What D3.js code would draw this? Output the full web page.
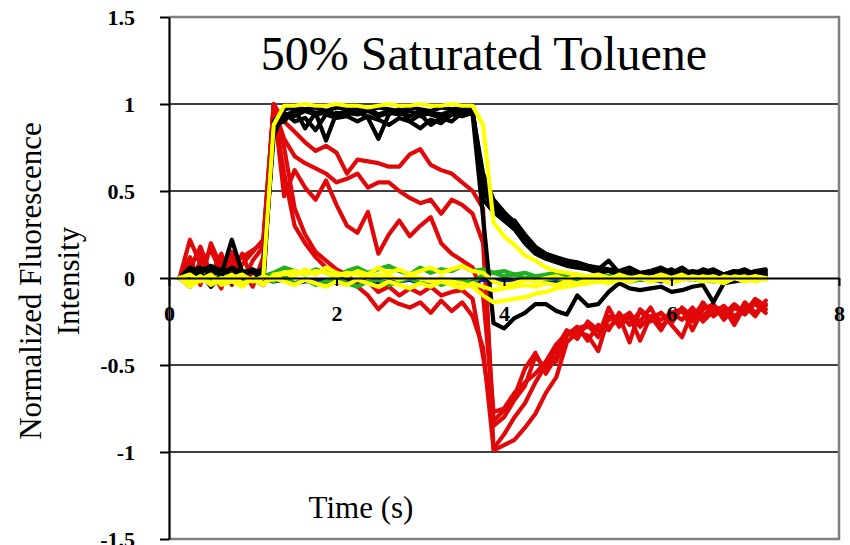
<!DOCTYPE html>
<html><head><meta charset="utf-8">
<script src="https://cdn.jsdelivr.net/npm/d3@7"></script>
<style>
html,body{margin:0;padding:0;background:#fff;}
svg{display:block;}
text{font-family:"Liberation Serif","Times New Roman",serif;}
</style></head>
<body>
<svg id="chart" width="850" height="545"></svg>
<script>
const title = "50% Saturated Toluene";
const xTitle = "Time (s)";
const yTitle = ["Normalized Fluorescence", "Intensity"];
const xTicks = [0, 2, 4, 6, 8];
const yTicks = [-1.5, -1, -0.5, 0, 0.5, 1, 1.5];
const gridValues = [-1, -0.5, 0.5, 1];

const time = [0.125,0.25,0.375,0.5,0.625,0.75,0.875,1,1.125,1.25,1.375,1.5,1.625,1.75,1.875,2,2.125,2.25,2.375,2.5,2.625,2.75,2.875,3,3.125,3.25,3.375,3.5,3.625,3.75,3.875,4,4.125,4.25,4.375,4.5,4.625,4.75,4.875,5,5.125,5.25,5.375,5.5,5.625,5.75,5.875,6,6.125,6.25,6.375,6.5,6.625,6.75,6.875,7,7.125];

// red series
const red1 = [0,0.22,0.08,0.16,0.03,0.12,-0.03,0.10,0.18, 1.0,
  0.90,0.84,0.78,0.73,0.76,0.72,0.60,0.68,0.67,0.66,0.64,0.64,0.71,0.74,0.65,0.62,0.60,0.55,0.50, 0.40,
  -0.99,-0.96,-0.93,-0.86,-0.78,-0.66,-0.57,-0.37,-0.31,-0.33,-0.42,-0.22,-0.26,-0.22,-0.36,-0.22,-0.24,-0.20,-0.18,-0.30,-0.18,-0.15,-0.24,-0.17,-0.21,-0.14,-0.18];
const red2 = [0,0.05,0.18,0.02,0.14,-0.04,0.08,0.15,0.22, 0.98,
  0.80,0.70,0.66,0.63,0.60,0.55,0.57,0.60,0.52,0.55,0.55,0.50,0.46,0.43,0.45,0.37,0.45,0.42,0.37, 0.20,
  -0.82,-0.76,-0.68,-0.52,-0.43,-0.55,-0.45,-0.33,-0.28,-0.36,-0.27,-0.30,-0.20,-0.27,-0.19,-0.25,-0.20,-0.27,-0.34,-0.19,-0.22,-0.16,-0.19,-0.25,-0.14,-0.20,-0.15];
const red3 = [0,0.12,-0.04,0.20,0.06,0.02,0.14,-0.02,0.08, 1.0,
  0.47,0.62,0.52,0.45,0.56,0.42,0.30,0.26,0.38,0.14,0.25,0.33,0.24,0.30,0.35,0.20,0.14,0.10,0.06, -0.10,
  -0.77,-0.75,-0.66,-0.60,-0.55,-0.48,-0.38,-0.32,-0.29,-0.27,-0.34,-0.17,-0.28,-0.22,-0.25,-0.17,-0.28,-0.22,-0.19,-0.25,-0.14,-0.22,-0.17,-0.27,-0.16,-0.22,-0.13];
const red4 = [0,-0.05,0.10,0.05,-0.06,0.15,0.04,-0.05,0.12, 0.97,
  0.60,0.30,0.20,0.12,0.06,0.02,0.00,-0.05,-0.10,-0.18,-0.12,-0.15,-0.17,-0.14,-0.20,-0.13,-0.19,-0.14,-0.22, -0.40,
  -0.98,-0.90,-0.80,-0.72,-0.60,-0.50,-0.48,-0.33,-0.30,-0.28,-0.30,-0.24,-0.22,-0.37,-0.18,-0.23,-0.20,-0.26,-0.17,-0.22,-0.15,-0.20,-0.16,-0.22,-0.18,-0.15,-0.20];
const red5 = [0,0.08,0.15,-0.05,0.10,0.08,0.12,0.16,0.20, 0.99,
  0.75,0.40,0.25,0.15,0.10,0.05,0.02,-0.04,-0.02,-0.08,-0.05,-0.10,-0.06,-0.09,-0.05,-0.10,-0.08,-0.07,-0.12, -0.45,
  -0.85,-0.80,-0.70,-0.62,-0.45,-0.52,-0.40,-0.30,-0.35,-0.25,-0.30,-0.28,-0.24,-0.20,-0.28,-0.22,-0.30,-0.20,-0.24,-0.17,-0.25,-0.19,-0.21,-0.15,-0.20,-0.12,-0.16];

// black series
const black1 = [0,0.04,0.06,0.03,0.05,0.02,0.04,0.03,0.05, 0.85,
  0.93,0.96,0.97,0.95,0.96,0.94,0.96,0.95,0.97,0.94,0.96,0.95,0.93,0.96,0.94,0.92,0.95,0.97,0.96, 0.55,
  0.42,0.36,0.30,0.22,0.16,0.12,0.10,0.10,0.08,0.06,0.05,0.10,0.03,0.05,0.02,0.04,0.03,0.05,0.02,0.04,0.03,0.05,0.02,0.04,0.03,0.02,0.04];
const black2 = [0,0.02,0.05,0.06,0.02,0.22,0.03,0.04,-0.02, 0.88,
  0.90,0.97,0.86,0.95,0.79,0.95,0.94,0.96,0.92,0.80,0.94,0.97,0.90,0.94,0.88,0.92,0.90,0.95,0.97, 0.50,
  0.40,0.35,0.33,0.25,0.18,0.14,0.12,0.10,0.09,0.07,0.06,0.05,0.04,0.06,0.03,0.04,0.05,0.03,0.06,0.02,0.03,0.04,0.02,0.03,0.05,0.02,0.03];
const black3 = [0,0.06,0.03,0.07,0.04,0.05,0.02,0.04,0.03, 0.82,
  0.95,0.90,0.92,0.85,0.94,0.92,0.93,0.90,0.93,0.91,0.88,0.92,0.90,0.86,0.91,0.89,0.94,0.93,0.95, 0.60,
  0.45,0.38,0.32,0.24,0.17,0.13,0.11,0.09,0.08,0.07,0.05,0.04,0.03,0.05,0.02,0.04,0.06,0.03,0.04,0.02,0.05,0.03,0.02,0.04,0.02,0.04,0.05];
const black4 = [0,-0.02,0.03,-0.05,0.01,-0.03,0.02,-0.01,-0.04, 0.90,
  0.97,0.98,0.97,0.98,0.96,0.98,0.97,0.98,0.96,0.98,0.97,0.96,0.98,0.97,0.96,0.98,0.97,0.98,0.97, 0.45,
  0.38,0.33,0.28,0.20,0.14,0.11,0.09,0.07,0.06,0.05,0.03,0.04,0.02,0.03,0.01,0.03,0.02,0.01,0.03,0.02,0.01,0.02,0.00,0.02,0.01,0.00,0.02];
const black5 = [0,0.03,-0.02,0.04,0.02,0.06,0.03,0.05,0.02, 0.86,
  0.94,0.93,0.96,0.94,0.95,0.93,0.95,0.94,0.96,0.93,0.95,0.94,0.96,0.93,0.95,0.94,0.96,0.95,0.94, 0.35,
  -0.26,-0.29,-0.23,-0.20,-0.15,-0.15,-0.19,-0.21,-0.10,-0.16,-0.15,-0.08,-0.03,-0.06,-0.07,-0.06,-0.05,-0.08,-0.07,-0.05,-0.04,-0.14,-0.03,-0.02,-0.01,0.00,0.01];

// yellow series
const yellow1 = [0,-0.02,0.01,-0.03,0.00,-0.02,0.01,-0.01,0.00, 0.88,
  0.99,0.99,1.00,0.99,0.99,1.00,0.99,0.99,0.98,0.99,1.00,0.99,0.99,1.00,0.99,0.99,1.00,0.99,0.99, 0.88,
  0.32,0.24,0.19,0.13,0.10,0.06,0.04,0.03,0.02,0.01,0.02,0.00,0.01,-0.01,0.01,0.00,0.02,0.00,-0.01,0.01,0.00,-0.02,0.01,0.00,-0.01,0.01,0.00];
const yellow2 = [0,-0.03,0.01,-0.04,-0.01,0.02,-0.03,-0.01,-0.04,
  0.02,0.03,0.04,0.02,0.04,0.03,0.01,0.03,0.02,0.00,0.02,0.01,-0.01,0.01,0.00,-0.02,0.00,-0.02,-0.03,-0.05, -0.10,
  -0.14,-0.13,-0.12,-0.11,-0.09,-0.08,-0.06,-0.05,-0.04,-0.03,-0.02,-0.01,0.00,-0.01,0.01,0.00,-0.01,0.00,0.01,-0.01,0.00,0.01,-0.01,0.00,0.01,-0.02,0.00];
const yellow3 = [0,0.02,-0.02,0.01,-0.03,0.00,0.02,-0.02,0.01,
  -0.01,0.03,0.01,0.05,0.02,0.06,0.03,0.01,0.04,0.02,0.06,0.03,0.05,0.02,0.04,0.06,0.03,0.05,0.07,0.04,
  0.03,-0.02,-0.04,-0.03,-0.01,-0.02,0.00,0.01,-0.01,0.02,0.00,0.01,-0.01,0.02,0.00,0.01,-0.02,0.01,0.00,0.02,-0.01,0.01,0.00,-0.02,0.01,0.00,0.01,-0.01];
const yellow4 = [0,-0.05,-0.01,0.02,-0.04,-0.02,-0.05,0.00,-0.03,
  0.00,-0.02,-0.04,-0.01,-0.03,-0.05,-0.02,-0.04,-0.01,-0.03,-0.05,-0.02,-0.04,-0.06,-0.03,-0.05,-0.02,-0.04,-0.06,-0.03,
  -0.05,-0.07,-0.06,-0.05,-0.04,-0.05,-0.03,-0.04,-0.02,-0.03,-0.01,-0.02,-0.03,-0.01,-0.02,0.00,-0.02,-0.01,-0.03,-0.01,0.00,-0.02,-0.01,-0.03,0.00,-0.02,-0.01,0.00];

// green and blue series
const green1 = [0,0.01,0.03,-0.01,0.02,0.00,0.02,-0.01,0.01,
  0.03,0.06,0.04,0.02,0.05,0.03,0.01,0.04,0.06,0.03,0.05,0.07,0.04,0.02,0.06,0.03,0.05,0.04,0.07,0.04,
  0.05,0.03,0.04,0.02,0.03,0.01,0.02,0.03,0.01,0.02,0.00,0.02,0.01,0.03,0.01,0.02,0.00,0.02,0.01,0.03,0.01,0.02,0.00,0.01,0.02,0.00,0.01,0.00];
const green2 = [0,-0.01,0.01,-0.02,0.00,-0.01,0.01,-0.02,-0.01,
  -0.02,0.01,-0.03,-0.01,-0.04,-0.02,0.00,-0.03,-0.05,-0.02,-0.01,-0.04,-0.02,0.00,-0.03,-0.01,-0.04,-0.02,-0.01,-0.03,
  0.02,0.03,0.01,0.02,0.00,0.01,-0.01,0.00,-0.02,0.00,-0.01,0.01,-0.01,0.00,-0.02,-0.01,0.00,-0.01,0.01,-0.01,0.00,-0.02,-0.01,0.00,-0.01,0.00,-0.01,0.00];
const blue1 = [0,-0.01,0.00,-0.02,-0.01,0.00,-0.01,-0.02,-0.01,
  -0.02,-0.01,-0.03,-0.02,-0.01,-0.02,-0.03,-0.01,-0.02,-0.01,-0.03,-0.02,-0.02,-0.01,-0.03,-0.02,-0.01,-0.02,-0.03,-0.02,
  -0.01,-0.02,-0.01,-0.02,-0.01,0.00,-0.01,-0.02,-0.01,-0.01,0.00,-0.01,-0.02,-0.01,0.00,-0.01,-0.01,-0.02,-0.01,0.00,-0.01,-0.01,-0.02,-0.01,0.00,-0.01,-0.01,0.00];

const seriesList = [
  {values: red1, color: "#e00808"}, {values: red2, color: "#e00808"}, {values: red3, color: "#e00808"},
  {values: red4, color: "#e00808"}, {values: red5, color: "#e00808"},
  {values: blue1, color: "#0a1a9a"},
  {values: green1, color: "#22b022"}, {values: green2, color: "#22b022"},
  {values: black1, color: "#000000"}, {values: black2, color: "#000000"}, {values: black3, color: "#000000"},
  {values: black4, color: "#000000"}, {values: black5, color: "#000000"},
  {values: yellow2, color: "#ffff00"}, {values: yellow3, color: "#ffff00"}, {values: yellow4, color: "#ffff00"},
  {values: yellow1, color: "#ffff00"}
];

const svg = d3.select("#chart");
const x = d3.scaleLinear().domain([0, 8]).range([169, 839]);
const y = d3.scaleLinear().domain([-1.5, 1.5]).range([539, 17]);

// gridlines
svg.append("g").selectAll("line").data(gridValues).join("line")
  .attr("x1", x(0)).attr("x2", x(8))
  .attr("y1", d => y(d)).attr("y2", d => y(d))
  .attr("stroke", "#000").attr("stroke-width", 1.4);

// gray frame top/right/bottom
const frame = svg.append("g").attr("stroke", "#808080").attr("stroke-width", 2.5).attr("fill", "none");
frame.append("path").attr("d", `M${x(0)},${y(1.5)}H${x(8)}V${y(-1.5)}H${x(0)}`);

// data lines
const line = d3.line().x((d, i) => x(time[i])).y(d => y(d));
svg.append("g").selectAll("path").data(seriesList).join("path")
  .attr("d", d => line(d.values))
  .attr("fill", "none")
  .attr("stroke", d => d.color)
  .attr("stroke-width", 4.2)
  .attr("stroke-linejoin", "round")
  .attr("stroke-linecap", "round");

// y axis
const yAxis = svg.append("g").attr("transform", `translate(${x(0)},0)`)
  .call(d3.axisLeft(y).tickValues(yTicks).tickSize(9).tickSizeOuter(0).tickPadding(25).tickFormat(d => String(d)));
yAxis.select(".domain").attr("stroke", "#000").attr("stroke-width", 2.2);
yAxis.selectAll(".tick line").attr("stroke", "#000").attr("stroke-width", 2);
yAxis.selectAll(".tick text").attr("font-family", "Liberation Serif").attr("font-size", 22)
  .attr("font-weight", "bold").attr("fill", "#000");

// x axis at y=0
const xAxis = svg.append("g").attr("transform", `translate(0,${y(0)})`)
  .call(d3.axisBottom(x).tickValues(xTicks).tickSize(8).tickSizeOuter(0).tickPadding(19).tickFormat(d => String(d)));
xAxis.select(".domain").attr("stroke", "#000").attr("stroke-width", 2.2);
xAxis.selectAll(".tick line").attr("stroke", "#000").attr("stroke-width", 2);
xAxis.selectAll(".tick text").attr("font-family", "Liberation Serif").attr("font-size", 22)
  .attr("font-weight", "bold").attr("fill", "#000");

// title
svg.append("text").attr("x", 484).attr("y", 70).attr("text-anchor", "middle")
  .attr("font-size", 48).attr("fill", "#000").text(title);

// x title
svg.append("text").attr("x", 361).attr("y", 518).attr("text-anchor", "middle")
  .attr("font-size", 31).attr("fill", "#000").text(xTitle);

// y title (two lines, rotated)
const yt = svg.append("text").attr("transform", "translate(41,281) rotate(-90)")
  .attr("text-anchor", "middle").attr("font-size", 31).attr("fill", "#000");
yt.append("tspan").attr("x", 0).attr("y", 0).text(yTitle[0]);
yt.append("tspan").attr("x", 0).attr("y", 38).text(yTitle[1]);
</script>
</body></html>
